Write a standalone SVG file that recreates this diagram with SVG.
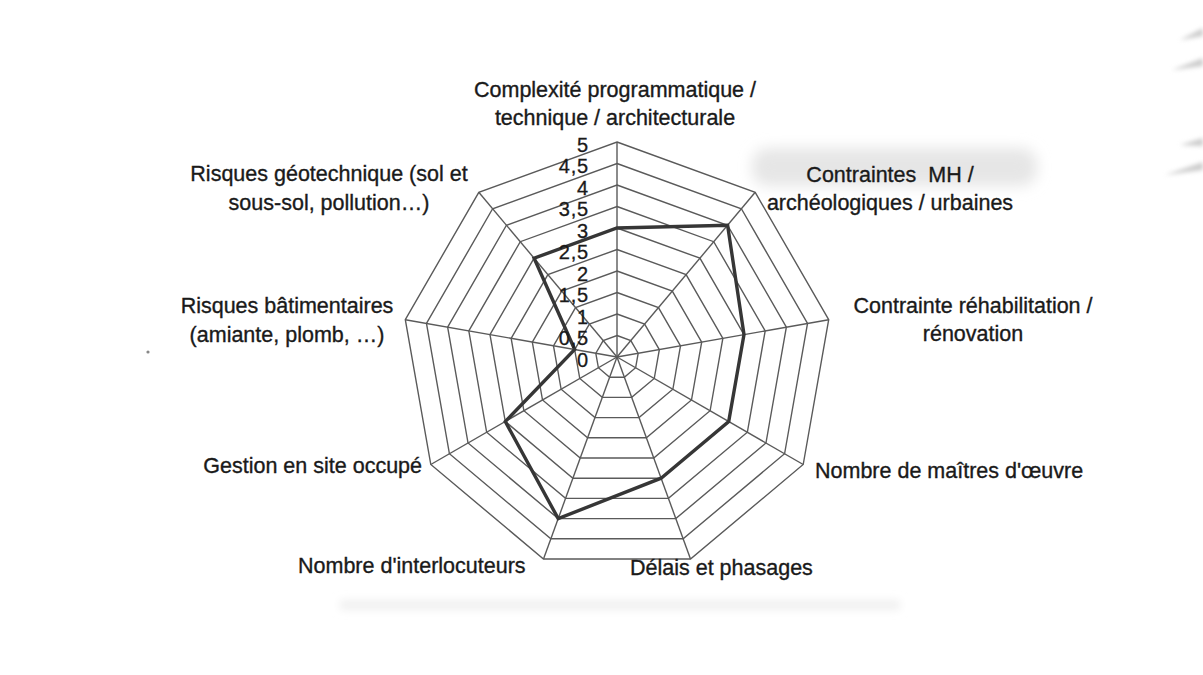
<svg xmlns="http://www.w3.org/2000/svg" xmlns:xlink="http://www.w3.org/1999/xlink" width="1203" height="675" viewBox="0 0 1203 675">
  <style>
    .lbl { font-family: "Liberation Sans", Arial, sans-serif; font-size: 21.5px; fill: #1a1a1a; stroke: #1a1a1a; stroke-width: 0.35px; }
    .mid { text-anchor: middle; }
    .tick { font-family: "Liberation Sans", Arial, sans-serif; font-size: 20px; fill: #1a1a1a; stroke: #1a1a1a; stroke-width: 0.3px; text-anchor: end; letter-spacing: 0.8px; }
    .grid { fill: none; stroke: #5a5a5a; stroke-width: 1.4; vector-effect: non-scaling-stroke; }
    .spoke { stroke: #5a5a5a; stroke-width: 1.4; }
    .series { fill: none; stroke: #363636; stroke-width: 3.4; stroke-linejoin: miter; }
  </style>
  <defs>
    <filter id="blur" x="-20%" y="-50%" width="140%" height="200%">
      <feGaussianBlur stdDeviation="7"/>
    </filter>
    <filter id="blur2" x="-20%" y="-100%" width="140%" height="300%">
      <feGaussianBlur stdDeviation="2"/>
    </filter>
    <filter id="blur3" x="-20%" y="-200%" width="140%" height="500%">
      <feGaussianBlur stdDeviation="4"/>
    </filter>
    <polygon id="ring" class="grid" points="0,-215 138.2,-164.7 211.7,-37.3 186.2,107.5 73.5,202 -73.5,202 -186.2,107.5 -211.7,-37.3 -138.2,-164.7"/>
  </defs>

  <rect width="1203" height="675" fill="#ffffff"/>

  <!-- paper texture -->
  <g id="texture">
    <rect x="752" y="148" width="285" height="38" rx="16" fill="#e6e6e6" filter="url(#blur)"/>
    <path d="M1180,40 L1203,28 L1203,36 Z" fill="#cccccc" filter="url(#blur2)"/>
    <path d="M1172,70 L1203,58 L1203,66 Z" fill="#cccccc" filter="url(#blur2)"/>
    <path d="M1180,145 L1203,138 L1203,146 Z" fill="#cccccc" filter="url(#blur2)"/>
    <path d="M1165,175 L1203,162 L1203,170 Z" fill="#cccccc" filter="url(#blur2)"/>
    <rect x="340" y="600" width="560" height="10" fill="#f0f0f0" filter="url(#blur3)"/>
    <circle cx="148" cy="352" r="1.6" fill="#888"/>
  </g>

  <!-- grid -->
  <g id="grid" transform="translate(617 357)">
    <use xlink:href="#ring" transform="scale(0.1)"/>
    <use xlink:href="#ring" transform="scale(0.2)"/>
    <use xlink:href="#ring" transform="scale(0.3)"/>
    <use xlink:href="#ring" transform="scale(0.4)"/>
    <use xlink:href="#ring" transform="scale(0.5)"/>
    <use xlink:href="#ring" transform="scale(0.6)"/>
    <use xlink:href="#ring" transform="scale(0.7)"/>
    <use xlink:href="#ring" transform="scale(0.8)"/>
    <use xlink:href="#ring" transform="scale(0.9)"/>
    <use xlink:href="#ring"/>
    <g class="spoke">
      <line x1="0" y1="0" x2="0" y2="-215"/>
      <line x1="0" y1="0" x2="138.2" y2="-164.7"/>
      <line x1="0" y1="0" x2="211.7" y2="-37.3"/>
      <line x1="0" y1="0" x2="186.2" y2="107.5"/>
      <line x1="0" y1="0" x2="73.5" y2="202"/>
      <line x1="0" y1="0" x2="-73.5" y2="202"/>
      <line x1="0" y1="0" x2="-186.2" y2="107.5"/>
      <line x1="0" y1="0" x2="-211.7" y2="-37.3"/>
      <line x1="0" y1="0" x2="-138.2" y2="-164.7"/>
    </g>
  </g>

  <!-- data series (connectors) -->
  <g id="connectors" transform="translate(617 357)">
    <polygon class="series" points="0,-129 110.6,-131.8 127,-22.4 111.7,64.5 44.1,121.2 -58.8,161.6 -111.7,64.5 -42.3,-7.5 -82.9,-98.8"/>
  </g>

  <!-- tick labels -->
  <g id="ticks">
    <text class="tick" x="589" y="366.5">0</text>
    <text class="tick" x="589" y="345">0,5</text>
    <text class="tick" x="589" y="323.5">1</text>
    <text class="tick" x="589" y="302">1,5</text>
    <text class="tick" x="589" y="280.5">2</text>
    <text class="tick" x="589" y="259">2,5</text>
    <text class="tick" x="589" y="237.5">3</text>
    <text class="tick" x="589" y="216">3,5</text>
    <text class="tick" x="589" y="194.5">4</text>
    <text class="tick" x="589" y="173">4,5</text>
    <text class="tick" x="589" y="151.5">5</text>
  </g>

  <!-- axis labels -->
  <g id="node-complexite">
    <text class="lbl mid" x="615" y="97">Complexité programmatique /</text>
    <text class="lbl mid" x="615" y="125">technique / architecturale</text>
  </g>
  <g id="node-contraintes-mh">
    <text class="lbl mid" x="890" y="182" xml:space="preserve">Contraintes  MH /</text>
    <text class="lbl mid" x="890" y="210">archéologiques / urbaines</text>
  </g>
  <g id="node-rehabilitation">
    <text class="lbl mid" x="973" y="313">Contrainte réhabilitation /</text>
    <text class="lbl mid" x="973" y="341">rénovation</text>
  </g>
  <g id="node-maitres-oeuvre">
    <text class="lbl" x="815" y="478">Nombre de maîtres d'œuvre</text>
  </g>
  <g id="node-delais">
    <text class="lbl" x="630" y="575">Délais et phasages</text>
  </g>
  <g id="node-interlocuteurs">
    <text class="lbl" x="298" y="573">Nombre d'interlocuteurs</text>
  </g>
  <g id="node-site-occupe">
    <text class="lbl" x="422" y="473" text-anchor="end">Gestion en site occupé</text>
  </g>
  <g id="node-batimentaires">
    <text class="lbl mid" x="287" y="313">Risques bâtimentaires</text>
    <text class="lbl mid" x="287" y="342">(amiante, plomb, …)</text>
  </g>
  <g id="node-geotechnique">
    <text class="lbl mid" x="329" y="181">Risques géotechnique (sol et</text>
    <text class="lbl mid" x="329" y="210">sous-sol, pollution…)</text>
  </g>
</svg>
